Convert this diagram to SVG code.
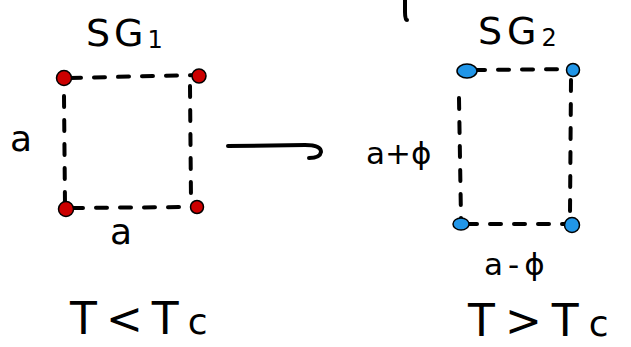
<svg xmlns="http://www.w3.org/2000/svg" width="631" height="347" viewBox="0 0 631 347">
  <style>
    .ink { fill: none; stroke: #000; stroke-width: 4; stroke-linecap: round; stroke-linejoin: round; }
    .dash { stroke-dasharray: 11 13; }
    .lbl { font-family: "DejaVu Sans", "Liberation Sans", sans-serif; fill: #000; }
    .red { fill: #cc0000; stroke: #000; stroke-width: 1.5; }
    .blue { fill: #2196e8; stroke: #000; stroke-width: 1.5; }
  </style>
  <rect width="631" height="347" fill="#fff"/>

  <!-- low-temperature lattice -->
  <g id="sg1">
    <text class="lbl" x="86" y="46" font-size="38" letter-spacing="4">SG<tspan font-size="24" dy="2">1</tspan></text>
    <path class="ink dash" d="M70 78 L197 75"/>
    <path class="ink dash" d="M64 96 L65 205"/>
    <path class="ink dash" d="M190 86 L191 200"/>
    <path class="ink dash" d="M72 208 L194 207"/>
    <circle class="red" cx="64" cy="78" r="7.5"/>
    <circle class="red" cx="199" cy="76" r="7"/>
    <circle class="red" cx="66" cy="209" r="7.5"/>
    <circle class="red" cx="197" cy="207" r="6.5"/>
    <text class="lbl" x="10" y="151" font-size="36">a</text>
    <text class="lbl" x="110" y="244" font-size="36">a</text>
  </g>

  <!-- transition arrow -->
  <g id="connectors">
    <path class="ink" d="M228 146 L305 145 Q321 145 321 152 Q320 158 309 158"/>
    <path class="ink" d="M405 0 L405 12 Q405 20 407 20"/>
  </g>

  <!-- high-temperature lattice -->
  <g id="sg2">
    <text class="lbl" x="478" y="44" font-size="38" letter-spacing="5">SG<tspan font-size="24" dy="2">2</tspan></text>
    <path class="ink dash" d="M474 70 L571 69"/>
    <path class="ink dash" d="M459 98 L461 218"/>
    <path class="ink dash" d="M571 80 L570 214"/>
    <path class="ink dash" d="M466 224 L566 224"/>
    <ellipse class="blue" cx="467" cy="71" rx="10" ry="7"/>
    <circle class="blue" cx="573" cy="70" r="6.5"/>
    <ellipse class="blue" cx="461" cy="224" rx="8" ry="6"/>
    <circle class="blue" cx="572" cy="225" r="7.5"/>
    <text class="lbl" x="366" y="164" font-size="31">a+ϕ</text>
    <text class="lbl" x="484" y="275" font-size="31" letter-spacing="5">a-ϕ</text>
  </g>

  <!-- temperature conditions -->
  <g id="conditions">
    <text class="lbl" x="70" y="334" font-size="44" letter-spacing="9">T&lt;T<tspan font-size="36">c</tspan></text>
    <text class="lbl" x="468" y="336" font-size="44" letter-spacing="10">T&gt;T<tspan font-size="36">c</tspan></text>
  </g>
</svg>
